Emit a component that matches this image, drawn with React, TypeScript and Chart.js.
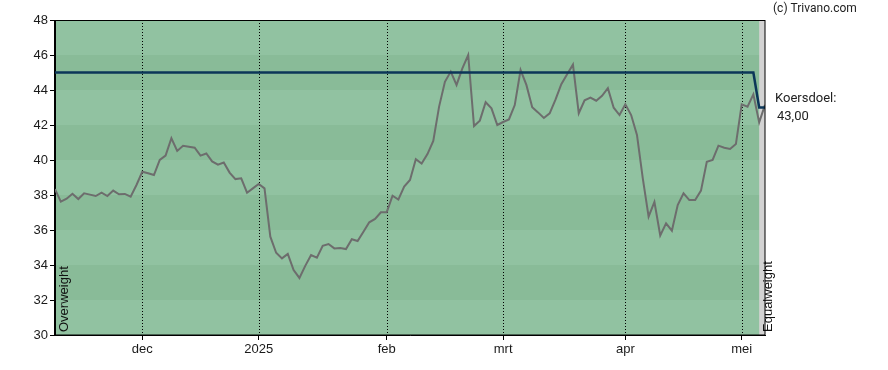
import React, { useEffect, useRef } from "react";
import { Chart, registerables } from "chart.js";

Chart.register(...registerables);

// Daily closing prices (trading-day index 0..122)
const priceValues: number[] = [
  38.34, 37.62, 37.79, 38.07, 37.77, 38.1, 38.02, 37.94, 38.13, 37.94,
  38.25, 38.04, 38.06, 37.9, 38.57, 39.33, 39.24, 39.14, 40.0, 40.25,
  41.24, 40.52, 40.81, 40.76, 40.7, 40.25, 40.37, 39.92, 39.73, 39.86,
  39.28, 38.91, 38.95, 38.13, 38.38, 38.63, 38.38, 35.62, 34.7, 34.38,
  34.63, 33.71, 33.26, 33.95, 34.57, 34.42, 35.09, 35.2, 34.95, 34.97,
  34.91, 35.47, 35.37, 35.9, 36.44, 36.63, 37.01, 37.02, 37.96, 37.74,
  38.48, 38.86, 40.05, 39.8, 40.34, 41.09, 43.05, 44.47, 45.05, 44.29,
  45.24, 46.0, 41.94, 42.25, 43.3, 42.95, 42.0, 42.17, 42.32, 43.14,
  45.14, 44.29, 43.02, 42.72, 42.4, 42.67, 43.45, 44.33, 44.9, 45.45,
  42.67, 43.41, 43.57, 43.39, 43.67, 44.1, 42.99, 42.57, 43.18, 42.57,
  41.43, 38.95, 36.76, 37.6, 35.69, 36.38, 35.96, 37.43, 38.1, 37.71,
  37.71, 38.25, 39.9, 40.0, 40.82, 40.7, 40.63, 40.91, 43.18, 43.05,
  43.75, 42.15, 43.15,
];

// Price target (koersdoel) steps
const targetIdx: number[] = [0, 120, 121, 122];
const targetValues: number[] = [45, 45, 43, 43];

// Month ticks
const monthIdx: number[] = [15, 35, 57, 77, 98, 118];
const monthLabels: string[] = ["dec", "2025", "feb", "mrt", "apr", "mei"];

// Y axis
const yMin = 30;
const yMax = 48;
const bandEdges: number[] = [30, 32, 34, 36, 38, 40, 42, 44, 46, 48];

// Ratings
const ratingStartIdx: number[] = [0, 121];
const ratingLabels: string[] = ["Overweight", "Equalweight"];

const targetText = "Koersdoel:";
const targetValueText = "43,00";
const copyrightText = "(c) Trivano.com";

const LIGHT = "#91c2a1";
const DARK = "#89bb98";
const GRAY = "#d3d3d3";
const TICK_FONT = { family: "'Liberation Sans', Arial, sans-serif", size: 13 };

const decorPlugin = {
  id: "decor",
  beforeDraw(chart: any) {
    const { ctx, chartArea: a, scales } = chart;
    const y = scales.y;
    const x = scales.x;
    ctx.save();
    for (let i = 0; i < bandEdges.length - 1; i++) {
      const y0 = y.getPixelForValue(bandEdges[i]);
      const y1 = y.getPixelForValue(bandEdges[i + 1]);
      ctx.fillStyle = i % 2 === 0 ? LIGHT : DARK;
      ctx.fillRect(a.left, y1, a.width, y0 - y1);
    }
    const gx = x.getPixelForValue(ratingStartIdx[1]);
    ctx.fillStyle = GRAY;
    ctx.fillRect(gx, a.top, a.right - gx, a.height);
    ctx.restore();
  },
  beforeDatasetsDraw(chart: any) {
    const { ctx, chartArea: a, scales } = chart;
    const x = scales.x;
    ctx.save();
    // dotted month lines
    ctx.strokeStyle = "#000";
    ctx.lineWidth = 1;
    ctx.setLineDash([1, 2]);
    for (const v of monthIdx) {
      const px = Math.round(x.getPixelForValue(v)) + 0.5;
      ctx.beginPath();
      ctx.moveTo(px, a.top);
      ctx.lineTo(px, a.bottom);
      ctx.stroke();
    }
    ctx.setLineDash([]);
    // rating labels
    ctx.fillStyle = "#111";
    ctx.font = "13px 'Liberation Sans', Arial, sans-serif";
    ctx.textAlign = "left";
    ctx.textBaseline = "top";
    for (let i = 0; i < ratingLabels.length; i++) {
      const px = x.getPixelForValue(ratingStartIdx[i]) + 3;
      ctx.save();
      ctx.translate(px, a.bottom - 3);
      ctx.rotate(-Math.PI / 2);
      ctx.fillText(ratingLabels[i], 0, 0);
      ctx.restore();
    }
    ctx.restore();
  },
  afterDatasetsDraw(chart: any) {
    const { ctx, chartArea: a, scales } = chart;
    const y = scales.y;
    ctx.save();
    ctx.strokeStyle = "#000";
    ctx.lineWidth = 1;
    ctx.strokeRect(Math.round(a.left) - 0.5, Math.round(a.top) + 0.5, Math.round(a.width) + 0.5, Math.round(a.height) - 0.5);
    ctx.fillStyle = "#222";
    ctx.font = "12px Roboto, 'Liberation Sans', sans-serif";
    ctx.textAlign = "left";
    ctx.textBaseline = "middle";
    ctx.fillText(copyrightText, a.right + 8, 9);
    ctx.font = "13px Roboto, 'Liberation Sans', sans-serif";
    const ty = y.getPixelForValue(targetValues[targetValues.length - 1]);
    ctx.fillText(targetText, a.right + 10, ty - 9);
    ctx.fillText(targetValueText, a.right + 12, ty + 9);
    ctx.restore();
  },
};

export default function App() {
  const ref = useRef<HTMLCanvasElement | null>(null);
  useEffect(() => {
    document.body.style.margin = "0";
    const canvas = ref.current;
    if (!canvas) return;
    const chart = new Chart(canvas, {
      type: "line",
      data: {
        datasets: [
          {
            label: "Koersdoel",
            data: targetIdx.map((v, i) => ({ x: v, y: targetValues[i] })),
            borderColor: "#0b3658",
            borderWidth: 2.5,
            pointRadius: 0,
            tension: 0,
          },
          {
            label: "Koers",
            data: priceValues.map((v, i) => ({ x: i, y: v })),
            borderColor: "#6d6d6d",
            borderWidth: 2,
            pointRadius: 0,
            tension: 0,
          },
        ],
      },
      options: {
        animation: false,
        responsive: false,
        devicePixelRatio: 1,
        layout: { padding: { left: 0, right: 123, top: 20, bottom: 0 } },
        plugins: { legend: { display: false }, tooltip: { enabled: false } },
        scales: {
          x: {
            type: "linear",
            min: 0,
            max: priceValues.length - 1,
            afterBuildTicks: (s: any) => {
              s.ticks = monthIdx.map((v) => ({ value: v }));
            },
            afterFit: (s: any) => {
              s.height = 35;
            },
            ticks: {
              autoSkip: false,
              maxRotation: 0,
              padding: 2,
              color: "#1a1a1a",
              font: TICK_FONT,
              callback: (v: any) => {
                const k = monthIdx.indexOf(Number(v));
                return k >= 0 ? monthLabels[k] : "";
              },
            },
            grid: { drawOnChartArea: false, drawTicks: true, tickLength: 5, color: "#000", tickColor: "#000" },
            border: { display: true, color: "#000" },
          },
          y: {
            min: yMin,
            max: yMax,
            afterFit: (s: any) => {
              s.width = 55;
            },
            ticks: { stepSize: 2, padding: 2, color: "#1a1a1a", font: TICK_FONT },
            grid: { drawOnChartArea: false, drawTicks: true, tickLength: 5, color: "#000", tickColor: "#000" },
            border: { display: true, color: "#000" },
          },
        },
      },
      plugins: [decorPlugin],
    });
    return () => chart.destroy();
  }, []);
  return (
    <div style={{ position: "absolute", left: 0, top: 0, width: 888, height: 370, background: "#fff" }}>
      <canvas ref={ref} width={888} height={370} />
    </div>
  );
}
